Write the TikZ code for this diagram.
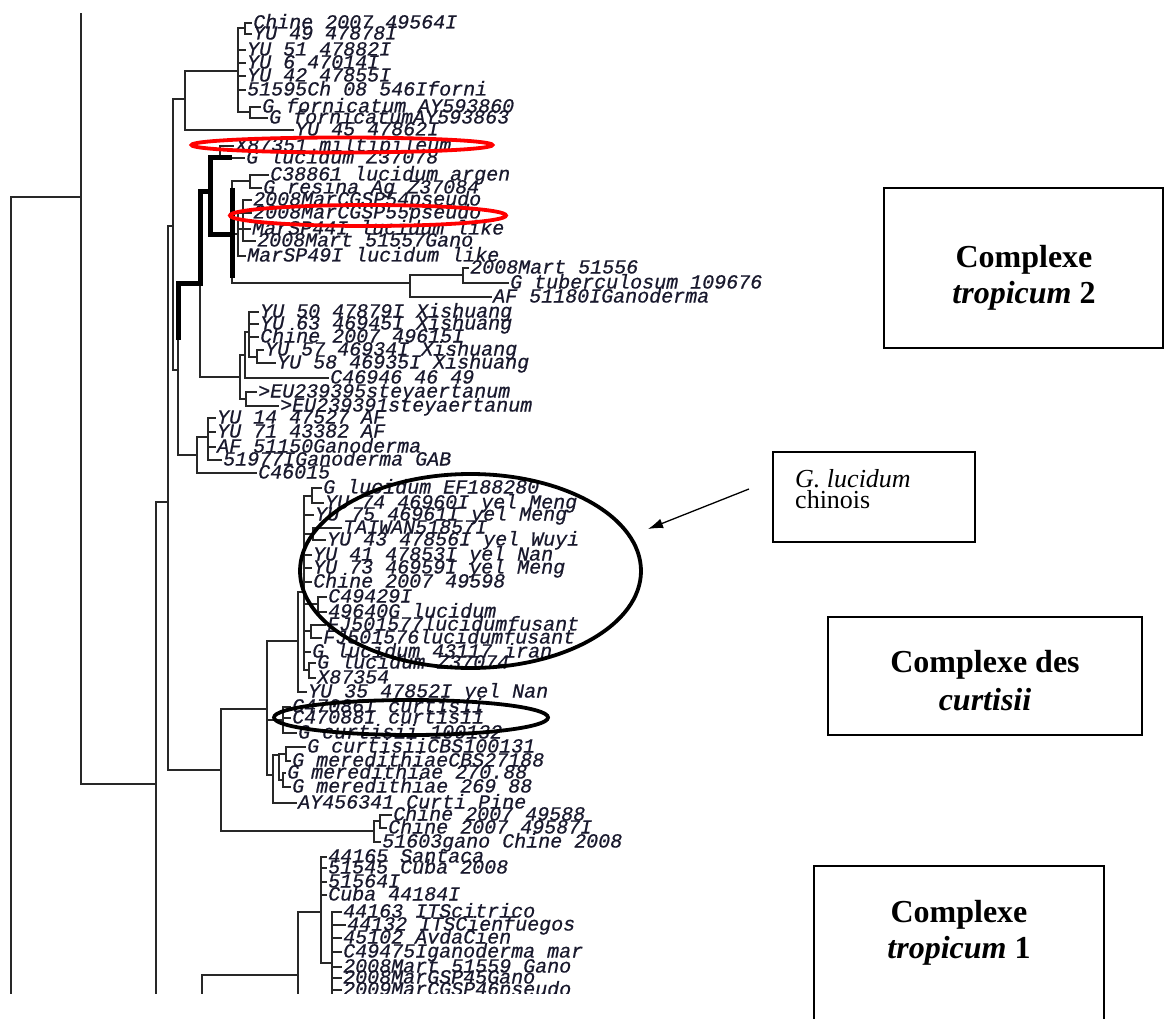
\documentclass[tikz,border=0pt]{standalone}
\usepackage{fontspec}
\setmainfont{Liberation Serif}
\newfontfamily\treefont{Liberation Mono}[ItalicFeatures={FakeBold=0.6}]
\usetikzlibrary{shapes.geometric,arrows.meta}
\definecolor{treeink}{RGB}{25,25,45}
\definecolor{treeline}{RGB}{40,40,40}
\newcommand\leafat[4]{\node[leaf] (#1) at (#2,#3) {#4};}
\newcommand\hleaf[2]{\draw[br] (#1 |- #2.west) -- ([xshift=-2pt]#2.west);}
\newcommand\hnode[2]{\draw[br] (#1 |- #2) -- (#2);}
\newcommand\vbr[3]{\draw[br] (#1 |- #2) -- (#1 |- #3);}
\begin{document}
\begin{tikzpicture}[x=1pt,y=-1pt,
  leaf/.style={anchor=west,inner sep=0pt,font=\treefont\itshape\fontsize{20}{20}\selectfont,text height=11pt,text depth=0pt,text=treeink},
  br/.style={line width=1.4pt,draw=treeline,line cap=rect},
  heavy/.style={line width=5pt,draw=black,line join=miter},
  ring/.style={ellipse,draw,inner sep=0pt,line width=3.8pt},
  boxnode/.style={draw,line width=1.2pt,inner sep=0pt},
  bigtxt/.style={anchor=base,inner sep=0pt,font=\bfseries\fontsize{32}{36}\selectfont},
  smalltxt/.style={anchor=base west,inner sep=0pt,font=\fontsize{26}{22}\selectfont}]
\useasboundingbox (0,0) rectangle (1165,1019);
\fill[white] (0,0) rectangle (1165,1019);
\clip (0,0) rectangle (1165,1019);
\begin{scope}
\clip (0,0) rectangle (780,993);
% ---------- leaves ----------
\leafat{a01}{253}{23}{Chine 2007 49564I}
\leafat{a02}{253}{34}{YU 49 47878I}
\leafat{a03}{247}{50}{YU 51 47882I}
\leafat{a04}{247}{63}{YU 6 47014I}
\leafat{a05}{247}{76}{YU 42 47855I}
\leafat{a06}{247}{90}{51595Ch 08 546Iforni}
\leafat{a07}{262}{107}{G fornicatum AY593860}
\leafat{a08}{269}{118}{G fornicatumAY593863}
\leafat{a09}{295}{130}{YU 45 47862I}
\leafat{a10}{235}{146}{X87351 miltipileum}
\leafat{a11}{246}{158}{G lucidum Z37078}
\leafat{a12}{270}{175}{C38861 lucidum argen}
\leafat{a13}{263}{188}{G resina Ag Z37084}
\leafat{a14}{253}{200}{2008MarCGSP54pseudo}
\leafat{a15}{253}{213}{2008MarCGSP55pseudo}
\leafat{a16}{252}{229}{MarSP44I lucidum like}
\leafat{a17}{257}{241}{2008Mart 51557Gano}
\leafat{a18}{247}{256}{MarSP49I lucidum like}
\leafat{a19}{470}{268}{2008Mart 51556}
\leafat{a20}{510}{283}{G tuberculosum 109676}
\leafat{a21}{493}{297}{AF 51180IGanoderma}
\leafat{a22}{260}{312}{YU 50 47879I Xishuang}
\leafat{a23}{260}{324}{YU 63 46945I Xishuang}
\leafat{a24}{260}{337}{Chine 2007 49615I}
\leafat{a25}{265}{350}{YU 57 46934I Xishuang}
\leafat{a26}{277}{363}{YU 58 46935I Xishuang}
\leafat{a27}{330}{378}{C46946 46 49}
\leafat{a28}{258}{392}{>EU239395steyaertanum}
\leafat{a29}{280}{406}{>EU239391steyaertanum}
\leafat{a30}{217}{418}{YU 14 47527 AF}
\leafat{a31}{217}{432}{YU 71 43382 AF}
\leafat{a32}{217}{447}{AF 51150Ganoderma}
\leafat{a33}{223}{460}{51977IGanoderma GAB}
\leafat{a34}{258}{473}{C46015}
\leafat{a35}{323}{488}{G lucidum EF188280}
\leafat{a36}{325}{503}{YU 74 46960I yel Meng}
\leafat{a37}{315}{515}{YU 75 46961I yel Meng}
\leafat{a38}{343}{528}{TAIWAN51857I}
\leafat{a39}{327}{540}{YU 43 47856I yel Wuyi}
\leafat{a40}{313}{555}{YU 41 47853I yel Nan}
\leafat{a41}{313}{568}{YU 73 46959I yel Meng}
\leafat{a42}{313}{582}{Chine 2007 49598}
\leafat{a43}{328}{597}{C49429I}
\leafat{a44}{328}{612}{49640G lucidum}
\leafat{a45}{327}{625}{FJ501577lucidumfusant}
\leafat{a46}{323}{638}{FJ501576lucidumfusant}
\leafat{a47}{312}{652}{G lucidum 43117 iran}
\leafat{a48}{317}{663}{G lucidum Z37074}
\leafat{a49}{317}{678}{X87354}
\leafat{a50}{308}{692}{YU 35 47852I yel Nan}
\leafat{a51}{292}{707}{C47086I curtisii}
\leafat{a52}{292}{718}{C47088I curtisii}
\leafat{a53}{298}{733}{G curtisii 100132}
\leafat{a54}{307}{747}{G curtisiiCBS100131}
\leafat{a55}{292}{761}{G meredithiaeCBS27188}
\leafat{a56}{287}{773}{G meredithiae 270.88}
\leafat{a57}{292}{787}{G meredithiae 269 88}
\leafat{a58}{298}{803}{AY456341 Curti Pine}
\leafat{a59}{393}{815}{Chine 2007 49588}
\leafat{a60}{388}{828}{Chine 2007 49587I}
\leafat{a61}{382}{842}{51603gano Chine 2008}
\leafat{a62}{328}{857}{44165 Santaca}
\leafat{a63}{328}{868}{51545 Cuba 2008}
\leafat{a64}{328}{882}{51564I}
\leafat{a65}{328}{895}{Cuba 44184I}
\leafat{a66}{343}{912}{44163 ITScitrico}
\leafat{a67}{347}{925}{44132 ITSCienfuegos}
\leafat{a68}{343}{938}{45102 AvdaCien}
\leafat{a69}{343}{952}{C49475Iganoderma mar}
\leafat{a70}{343}{967}{2008Mart 51559 Gano}
\leafat{a71}{343}{978}{2008MarGSP45Gano}
\leafat{a72}{343}{990}{2009MarCGSP46pseudo}
% ---------- internal nodes ----------
\coordinate (r0) at (11,197);  \coordinate (r0bot) at (11,1000);
\coordinate (n1) at (81,197);  \coordinate (n1top) at (81,14);
\coordinate (n2) at (156,784); \coordinate (n2bot) at (156,1000);
\coordinate (n3) at (168,502);
\coordinate (n4) at (173,226);
\coordinate (n5) at (185,99);
\coordinate (n5a) at (238,71);
\coordinate (pA) at (245,28);
\coordinate (pB) at (250,112);
\coordinate (n6) at (178,370);
\coordinate (n7) at (200,283);
\coordinate (n8) at (210,192);
\coordinate (pX) at (220,158);
\coordinate (n10) at (232,235);
\coordinate (pC) at (250,181);
\coordinate (pP) at (238,234);
\coordinate (pQ) at (243,220);
\coordinate (n11) at (410,283);
\coordinate (pD) at (463,275);
\coordinate (n9) at (240,377);
\coordinate (n9a) at (245,355);
\coordinate (n9b) at (249,332);
\coordinate (pY) at (257,357);
\coordinate (pS) at (246,399);
\coordinate (n12) at (197,455);
\coordinate (n13) at (208,437);
\coordinate (ncurt) at (221,770);
\coordinate (n14) at (267,709);
\coordinate (nL) at (298,641);
\coordinate (nL1) at (304,592);
\coordinate (pa) at (312,496);
\coordinate (pb) at (313,534);
\coordinate (pc) at (318,604);
\coordinate (pd) at (311,631);
\coordinate (pe) at (309,670);
\coordinate (pcu) at (283,720);
\coordinate (n15) at (273,775);
\coordinate (n16) at (279,755);
\coordinate (pf) at (286,754);
\coordinate (pg) at (283,780);
\coordinate (nch) at (374,831);
\coordinate (pch) at (380,821);
\coordinate (nt1) at (202,975); \coordinate (nt1bot) at (202,1000);
\coordinate (nt2) at (298,975);
\coordinate (nt3) at (321,912);
\coordinate (nt4) at (332,963);
% ---------- branches ----------
\draw[br] (r0) -- (r0bot);
\hnode{r0}{n1}
\draw[br] (n1top) -- (n1 |- n2);
\hnode{n1}{n2}
\draw[br] (n2 |- n3) -- (n2bot);
\hnode{n2}{n3}
\vbr{n3}{n4}{ncurt}
\hnode{n3}{n4} \hnode{n3}{ncurt}
\vbr{n4}{n5}{n6}
\hnode{n4}{n5} \hnode{n4}{n6}
% fornicatum clade
\vbr{n5}{n5a}{a09.west}
\hnode{n5}{n5a} \hleaf{n5}{a09}
\vbr{n5a}{pA}{pB}
\hnode{n5a}{pA} \hnode{n5a}{pB}
\hleaf{n5a}{a03} \hleaf{n5a}{a04} \hleaf{n5a}{a05} \hleaf{n5a}{a06}
\vbr{pA}{a01.west}{a02.west} \hleaf{pA}{a01} \hleaf{pA}{a02}
\vbr{pB}{a07.west}{a08.west} \hleaf{pB}{a07} \hleaf{pB}{a08}
% n6 / n7
\vbr{n6}{n7}{n12}
\hnode{n6}{n12}
\vbr{n7}{n8}{n9}
\hnode{n7}{n9}
% n8 group
\vbr{pX}{a10.west}{a11.west} \hleaf{pX}{a10}
\draw[br] (n10 |- a11.west) -- ([xshift=-2pt]a11.west);
\draw[br] (n10 |- pC) -- (n10 |- n11);
\hnode{n10}{pC}
\vbr{pC}{a12.west}{a13.west} \hleaf{pC}{a12} \hleaf{pC}{a13}
\hnode{n10}{pP}
\vbr{pP}{a15.west}{a18.west}
\hleaf{pP}{a15} \hleaf{pP}{a16} \hleaf{pP}{a18}
\hnode{pP}{pQ}
\vbr{pQ}{a14.west}{a17.west}
\hleaf{pQ}{a14} \hleaf{pQ}{a17}
\hnode{n10}{n11}
\vbr{n11}{pD}{a21.west}
\hnode{n11}{pD} \hleaf{n11}{a21}
\vbr{pD}{a19.west}{a20.west} \hleaf{pD}{a19} \hleaf{pD}{a20}
% thick path
\draw[heavy] (178,340) -- (n6 |- n7) -- (n7) -- (n7 |- n8) -- (n8);
\draw[heavy] (n10 |- pX) -- (n8 |- pX) -- (n8 |- n10) -- (n10);
\draw[heavy] (232,188) -- (232,278);
% Xishuang clade
\vbr{n9}{n9a}{pS}
\hnode{n9}{n9a} \hnode{n9}{pS}
\vbr{n9a}{n9b}{a27.west}
\hnode{n9a}{n9b} \hleaf{n9a}{a27}
\vbr{n9b}{a22.west}{pY}
\hleaf{n9b}{a22} \hleaf{n9b}{a23} \hleaf{n9b}{a24} \hnode{n9b}{pY}
\vbr{pY}{a25.west}{a26.west} \hleaf{pY}{a25} \hleaf{pY}{a26}
\vbr{pS}{a28.west}{a29.west} \hleaf{pS}{a28} \hleaf{pS}{a29}
% n12 group
\vbr{n12}{n13}{a34.west}
\hnode{n12}{n13} \hleaf{n12}{a34}
\vbr{n13}{a30.west}{a33.west}
\hleaf{n13}{a30} \hleaf{n13}{a31} \hleaf{n13}{a32} \hleaf{n13}{a33}
% curtisii / lucidum
\vbr{ncurt}{n14}{nch}
\hnode{ncurt}{n14} \hnode{ncurt}{nch}
\vbr{n14}{nL}{n15}
\hnode{n14}{nL} \hnode{n14}{pcu} \hnode{n14}{n15}
\vbr{nL}{nL1}{a50.west}
\hnode{nL}{nL1} \hleaf{nL}{a50}
\vbr{nL1}{pa}{pe}
\hnode{nL1}{pa} \hnode{nL1}{pb} \hnode{nL1}{pc} \hnode{nL1}{pd} \hnode{nL1}{pe}
\hleaf{nL1}{a37} \hleaf{nL1}{a40} \hleaf{nL1}{a41} \hleaf{nL1}{a42} \hleaf{nL1}{a47}
\vbr{pa}{a35.west}{a36.west} \hleaf{pa}{a35} \hleaf{pa}{a36}
\vbr{pb}{a38.west}{a39.west} \hleaf{pb}{a38} \hleaf{pb}{a39}
\vbr{pc}{a43.west}{a44.west} \hleaf{pc}{a43} \hleaf{pc}{a44}
\vbr{pd}{a45.west}{a46.west} \hleaf{pd}{a45} \hleaf{pd}{a46}
\vbr{pe}{a48.west}{a49.west} \hleaf{pe}{a48} \hleaf{pe}{a49}
\vbr{pcu}{a51.west}{a53.west}
\hleaf{pcu}{a51} \hleaf{pcu}{a52} \hleaf{pcu}{a53}
\vbr{n15}{n16}{a58.west}
\hnode{n15}{n16} \hleaf{n15}{a58}
\vbr{n16}{pf}{pg}
\hnode{n16}{pf} \hnode{n16}{pg}
\vbr{pf}{a54.west}{a55.west} \hleaf{pf}{a54} \hleaf{pf}{a55}
\vbr{pg}{a56.west}{a57.west} \hleaf{pg}{a56} \hleaf{pg}{a57}
\vbr{nch}{pch}{a61.west}
\hnode{nch}{pch} \hleaf{nch}{a61}
\vbr{pch}{a59.west}{a60.west} \hleaf{pch}{a59} \hleaf{pch}{a60}
% tropicum 1
\draw[br] (nt1) -- (nt1bot);
\hnode{nt1}{nt2}
\draw[br] (nt2 |- nt3) -- (298,1000);
\hnode{nt2}{nt3}
\vbr{nt3}{a62.west}{nt4}
\hleaf{nt3}{a62} \hleaf{nt3}{a63} \hleaf{nt3}{a64} \hleaf{nt3}{a65}
\hnode{nt3}{nt4}
\draw[br] (nt4 |- a66.west) -- (332,1000);
\hleaf{nt4}{a66} \hleaf{nt4}{a67} \hleaf{nt4}{a68} \hleaf{nt4}{a69}
\hleaf{nt4}{a70} \hleaf{nt4}{a71} \hleaf{nt4}{a72}
\end{scope}
% ---------- highlight ellipses ----------
\node[ring,draw=red,minimum width=301pt,minimum height=15pt] (eMil) at (342,145) {};
\node[ring,draw=red,minimum width=276pt,minimum height=21pt] (ePse) at (368,215.5) {};
\node[ring,draw=black,minimum width=341pt,minimum height=194pt] (eLuc) at (470.5,571) {};
\node[ring,draw=black,minimum width=274pt,minimum height=35pt] (eCur) at (411,717.5) {};
% ---------- boxes ----------
\node[boxnode,minimum width=279pt,minimum height=160pt] (bT2) at (1023.5,268) {};
\node[bigtxt] (tT2a) at (1024,268) {Complexe};
\node[bigtxt] (tT2b) at (1024,303) {\textit{tropicum} 2};
\node[boxnode,minimum width=202pt,minimum height=90pt] (bLuc) at (874,497) {};
\node[smalltxt] (tLa) at (795,487) {\textit{G. lucidum}};
\node[smalltxt] (tLb) at (795,508) {chinois};
\node[boxnode,minimum width=314pt,minimum height=118pt] (bCur) at (985,676) {};
\node[bigtxt] (tCa) at (985,672) {Complexe des};
\node[bigtxt] (tCb) at (985,710) {\textit{curtisii}};
\node[boxnode,minimum width=290pt,minimum height=200pt] (bT1) at (959,966) {};
\node[bigtxt] (tT1a) at (959,922) {Complexe};
\node[bigtxt] (tT1b) at (959,958) {\textit{tropicum} 1};
% ---------- arrow ----------
\coordinate (arrS) at (749,489);
\coordinate (arrE) at (648,529);
\draw[line width=1.3pt,-{Latex[length=15pt,width=10pt]}] (arrS) -- (arrE);
\end{tikzpicture}
\end{document}
